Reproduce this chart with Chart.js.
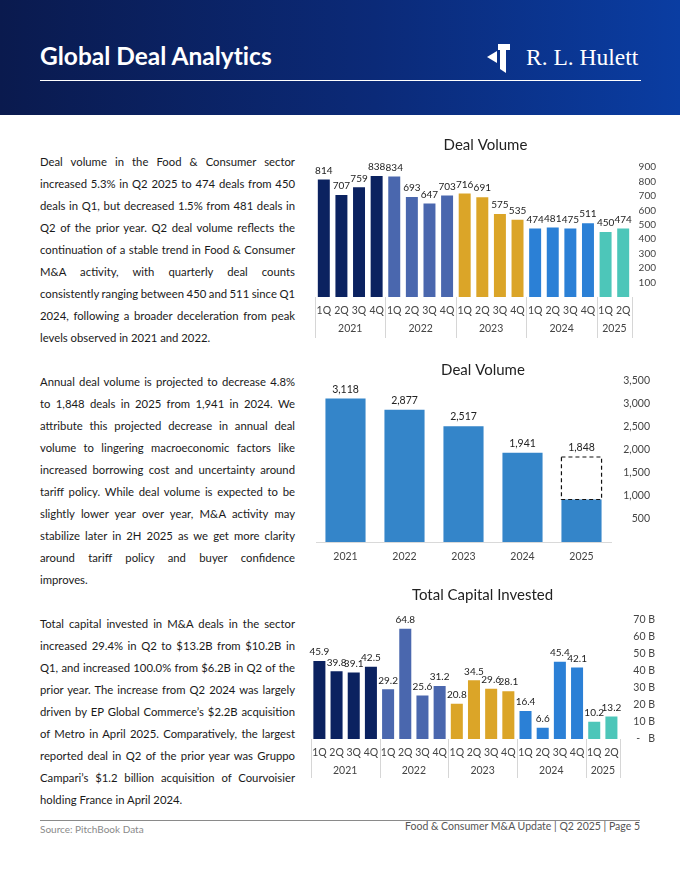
<!DOCTYPE html>
<html>
<head>
<meta charset="utf-8">
<script src="https://cdn.jsdelivr.net/npm/chart.js@4.4.0/dist/chart.umd.min.js"></script>
<style>
    body { margin: 0; width: 680px; height: 880px; position: relative; background: #fff; font-family: Lato, sans-serif; overflow: hidden; }
    .header { position: absolute; left: 0; top: 0; width: 680px; height: 115px; background: linear-gradient(90deg, #0a1a4e 0%, #0b2a78 55%, #0a3da2 100%); }
    .header h1 { position: absolute; left: 40px; top: 41px; margin: 0; font-size: 24.5px; font-weight: 700; color: #fff; font-variant-ligatures: none; }
    .header .rule { position: absolute; left: 40px; top: 80px; width: 601px; height: 1px; background: #fff; }
    .logo-mark { position: absolute; left: 487px; top: 44px; }
    .logo-text { position: absolute; left: 526px; top: 44px; font-family: "Liberation Serif", serif; font-size: 23.5px; color: #fff; }
    .copy { position: absolute; left: 40px; width: 255px; font-size: 11.3px; line-height: 22px; color: #1a1a1a; }
    .copy div { text-align: justify; text-align-last: justify; word-spacing: -1px; }
    .copy div.last { text-align-last: left; word-spacing: 0; }
    canvas { position: absolute; }
    .footer-rule { position: absolute; left: 40px; top: 820px; width: 600px; height: 1px; background: #8a8a8a; }
    .source { position: absolute; left: 40px; top: 823px; font-size: 10px; color: #8a8a8a; }
    .page { position: absolute; right: 40px; top: 820px; font-size: 10.5px; color: #555; }
</style>
</head>
<body>
<div class="header">
    <h1>Global Deal Analytics</h1>
    <svg class="logo-mark" width="23" height="29" viewBox="0 0 23 29">
        <polygon points="0,13 10,7 10,19" fill="#fff"/>
        <polygon points="11,0 23,0 23,6 19,6 19,29 13,25 13,6 11,6" fill="#fff"/>
    </svg>
    <div class="logo-text">R. L. Hulett</div>
    <div class="rule"></div>
</div>

<div class="copy" style="top:151px">
    <div>Deal volume in the Food &amp; Consumer sector</div>
    <div>increased 5.3% in Q2 2025 to 474 deals from 450</div>
    <div>deals in Q1, but decreased 1.5% from 481 deals in</div>
    <div>Q2 of the prior year. Q2 deal volume reflects the</div>
    <div>continuation of a stable trend in Food &amp; Consumer</div>
    <div>M&amp;A activity, with quarterly deal counts</div>
    <div>consistently ranging between 450 and 511 since Q1</div>
    <div>2024, following a broader deceleration from peak</div>
    <div class="last">levels observed in 2021 and 2022.</div>
</div>

<div class="copy" style="top:371px">
    <div>Annual deal volume is projected to decrease 4.8%</div>
    <div>to 1,848 deals in 2025 from 1,941 in 2024. We</div>
    <div>attribute this projected decrease in annual deal</div>
    <div>volume to lingering macroeconomic factors like</div>
    <div>increased borrowing cost and uncertainty around</div>
    <div>tariff policy. While deal volume is expected to be</div>
    <div>slightly lower year over year, M&amp;A activity may</div>
    <div>stabilize later in 2H 2025 as we get more clarity</div>
    <div>around tariff policy and buyer confidence</div>
    <div class="last">improves.</div>
</div>

<div class="copy" style="top:613px">
    <div>Total capital invested in M&amp;A deals in the sector</div>
    <div>increased 29.4% in Q2 to $13.2B from $10.2B in</div>
    <div>Q1, and increased 100.0% from $6.2B in Q2 of the</div>
    <div>prior year. The increase from Q2 2024 was largely</div>
    <div>driven by EP Global Commerce’s $2.2B acquisition</div>
    <div>of Metro in April 2025. Comparatively, the largest</div>
    <div>reported deal in Q2 of the prior year was Gruppo</div>
    <div>Campari’s $1.2 billion acquisition of Courvoisier</div>
    <div class="last">holding France in April 2024.</div>
</div>

<canvas id="quarterVolume" width="365" height="215" style="left:305px;top:130px"></canvas>
<canvas id="annualVolume" width="365" height="215" style="left:305px;top:355px"></canvas>
<canvas id="capitalInvested" width="365" height="205" style="left:305px;top:580px"></canvas>

<div class="footer-rule"></div>
<div class="source">Source: PitchBook Data</div>
<div class="page">Food &amp; Consumer M&amp;A Update | Q2 2025 | Page 5</div>

<script>
// Quarterly data
const quarters = ['1Q', '2Q', '3Q', '4Q', '1Q', '2Q', '3Q', '4Q', '1Q', '2Q', '3Q', '4Q', '1Q', '2Q', '3Q', '4Q', '1Q', '2Q'];
const quarterYears = ['2021', '2021', '2021', '2021', '2022', '2022', '2022', '2022', '2023', '2023', '2023', '2023', '2024', '2024', '2024', '2024', '2025', '2025'];
const dealCounts = [814, 707, 759, 838, 834, 693, 647, 703, 716, 691, 575, 535, 474, 481, 475, 511, 450, 474];
const capitalInvested = [45.9, 39.8, 39.1, 42.5, 29.2, 64.8, 25.6, 31.2, 20.8, 34.5, 29.6, 28.1, 16.4, 6.6, 45.4, 42.1, 10.2, 13.2];

// Annual data (2025 = actual H1 + projected remainder)
const years = ['2021', '2022', '2023', '2024', '2025'];
const annualDeals = [3118, 2877, 2517, 1941, 924];
const annualProjected = [null, null, null, null, 924];

const yearColors = {
    '2021': '#0b2260',
    '2022': '#4a67ae',
    '2023': '#dba528',
    '2024': '#2b80d6',
    '2025': '#4dc6b9'
};

Chart.defaults.font.family = 'Lato, sans-serif';

// Value labels above each bar (stack total)
const valueLabels = {
    id: 'valueLabels',
    afterDatasetsDraw(chart, args, opts) {
        const ctx = chart.ctx;
        const metas = chart.getSortedVisibleDatasetMetas();
        ctx.save();
        ctx.font = opts.size + 'px Lato, sans-serif';
        ctx.fillStyle = '#222';
        ctx.textAlign = 'center';
        ctx.textBaseline = 'bottom';
        chart.data.labels.forEach((l, i) => {
            let total = 0, top = Infinity;
            metas.forEach(m => {
                const v = chart.data.datasets[m.index].data[i];
                if (v == null) return;
                total += v;
                top = Math.min(top, m.data[i].y);
            });
            if (top === Infinity) return;
            let text = String(total);
            if (opts.format === 'comma') text = total.toLocaleString('en-US');
            if (opts.format === 'dec1') text = total.toFixed(1);
            ctx.fillText(text, metas[0].data[i].x, top - opts.offset);
        });
        ctx.restore();
    }
};

// Year row under the quarter labels, with separators
const yearGroups = {
    id: 'yearGroups',
    afterDraw(chart, args, opts) {
        const groups = opts.groups;
        if (!groups) return;
        const { ctx, chartArea } = chart;
        const x = chart.scales.x;
        const bottom = chartArea.bottom;
        ctx.save();
        ctx.strokeStyle = '#d6d6d6';
        ctx.lineWidth = 1;
        ctx.fillStyle = '#444';
        ctx.font = '10.5px Lato, sans-serif';
        ctx.textAlign = 'center';
        ctx.textBaseline = 'middle';
        let start = 0;
        for (let i = 1; i <= groups.length; i++) {
            if (i < groups.length && groups[i] === groups[start]) continue;
            const left = start === 0 ? chartArea.left : (x.getPixelForValue(start - 1) + x.getPixelForValue(start)) / 2;
            const right = i === groups.length ? chartArea.right : (x.getPixelForValue(i - 1) + x.getPixelForValue(i)) / 2;
            ctx.beginPath();
            ctx.moveTo(Math.round(left) + 0.5, bottom);
            ctx.lineTo(Math.round(left) + 0.5, bottom + opts.lineLength);
            if (i === groups.length) {
                ctx.moveTo(Math.round(right) + 0.5, bottom);
                ctx.lineTo(Math.round(right) + 0.5, bottom + opts.lineLength);
            }
            ctx.stroke();
            ctx.fillText(groups[start], (left + right) / 2, bottom + opts.labelOffset);
            start = i;
        }
        ctx.restore();
    }
};

// Dashed outline for the projected part of 2025
const dashedBox = {
    id: 'dashedBox',
    afterDatasetsDraw(chart) {
        const ctx = chart.ctx;
        const meta = chart.getDatasetMeta(1);
        ctx.save();
        ctx.strokeStyle = '#111';
        ctx.lineWidth = 1.2;
        ctx.setLineDash([4, 3]);
        meta.data.forEach((bar, i) => {
            if (chart.data.datasets[1].data[i] == null) return;
            const w = bar.width;
            ctx.strokeRect(bar.x - w / 2, bar.y, w, bar.base - bar.y);
        });
        ctx.restore();
    }
};

const tickFont = { size: 10.5 };

// Quarterly deal volume
new Chart(document.getElementById('quarterVolume'), {
    type: 'bar',
    data: {
        labels: quarters,
        datasets: [{
            data: dealCounts,
            backgroundColor: quarterYears.map(y => yearColors[y]),
            barPercentage: 0.68,
            categoryPercentage: 1
        }]
    },
    plugins: [valueLabels, yearGroups],
    options: {
        responsive: false,
        animation: false,
        layout: { padding: { left: 10, right: 14 } },
        plugins: {
            legend: { display: false },
            tooltip: { enabled: false },
            title: { display: true, text: 'Deal Volume', color: '#222', font: { size: 15, weight: 'normal' }, padding: { top: 6, bottom: 13 } },
            valueLabels: { format: 'int', offset: 4, size: 10 },
            yearGroups: { groups: quarterYears, lineLength: 41, labelOffset: 32 }
        },
        scales: {
            x: {
                grid: { display: false, drawTicks: false },
                border: { display: false },
                ticks: { color: '#444', font: tickFont, padding: 7, maxRotation: 0, autoSkip: false },
                afterFit: s => { s.height = 48; }
            },
            y: {
                position: 'right',
                min: 0,
                max: 900,
                grid: { display: false, drawTicks: false },
                border: { display: false },
                ticks: { stepSize: 100, autoSkip: false, color: '#444', font: { size: 10 }, crossAlign: 'far', callback: v => v === 0 ? '' : v },
                afterFit: s => { s.width = 24; }
            }
        }
    }
});

// Annual deal volume
new Chart(document.getElementById('annualVolume'), {
    type: 'bar',
    data: {
        labels: years,
        datasets: [{
            data: annualDeals,
            backgroundColor: '#3485c9',
            barPercentage: 0.68,
            categoryPercentage: 1
        }, {
            data: annualProjected,
            backgroundColor: 'rgba(0,0,0,0)',
            barPercentage: 0.68,
            categoryPercentage: 1
        }]
    },
    plugins: [valueLabels, dashedBox],
    options: {
        responsive: false,
        animation: false,
        layout: { padding: { left: 11, right: 20 } },
        plugins: {
            legend: { display: false },
            tooltip: { enabled: false },
            title: { display: true, text: 'Deal Volume', color: '#222', font: { size: 15, weight: 'normal' }, padding: { top: 6, bottom: 2 } },
            valueLabels: { format: 'comma', offset: 4, size: 10.5 }
        },
        scales: {
            x: {
                stacked: true,
                grid: { display: false, drawTicks: false },
                border: { display: true, color: '#d9d9d9' },
                ticks: { color: '#444', font: tickFont, padding: 8 },
                afterFit: s => { s.height = 28; }
            },
            y: {
                stacked: true,
                position: 'right',
                min: 0,
                max: 3500,
                grid: { display: false, drawTicks: false },
                border: { display: false },
                ticks: { stepSize: 500, autoSkip: false, color: '#444', font: tickFont, crossAlign: 'far', callback: v => v === 0 ? '' : v.toLocaleString('en-US') },
                afterFit: s => { s.width = 39; }
            }
        }
    }
});

// Total capital invested
new Chart(document.getElementById('capitalInvested'), {
    type: 'bar',
    data: {
        labels: quarters,
        datasets: [{
            data: capitalInvested,
            backgroundColor: quarterYears.map(y => yearColors[y]),
            barPercentage: 0.7,
            categoryPercentage: 1
        }]
    },
    plugins: [valueLabels, yearGroups],
    options: {
        responsive: false,
        animation: false,
        layout: { padding: { left: 5, right: 15 } },
        plugins: {
            legend: { display: false },
            tooltip: { enabled: false },
            title: { display: true, text: 'Total Capital Invested', color: '#222', font: { size: 15, weight: 'normal' }, padding: { top: 6, bottom: 16 } },
            valueLabels: { format: 'dec1', offset: 4, size: 10 },
            yearGroups: { groups: quarterYears, lineLength: 39, labelOffset: 32 }
        },
        scales: {
            x: {
                grid: { display: false, drawTicks: false },
                border: { display: false },
                ticks: { color: '#444', font: tickFont, padding: 7, maxRotation: 0, autoSkip: false },
                afterFit: s => { s.height = 46; }
            },
            y: {
                position: 'right',
                min: 0,
                max: 70,
                grid: { display: false, drawTicks: false },
                border: { display: false },
                ticks: { stepSize: 10, autoSkip: false, color: '#444', font: tickFont, crossAlign: 'far', callback: v => v === 0 ? '-   B' : v + ' B' },
                afterFit: s => { s.width = 35; }
            }
        }
    }
});
</script>
</body>
</html>
